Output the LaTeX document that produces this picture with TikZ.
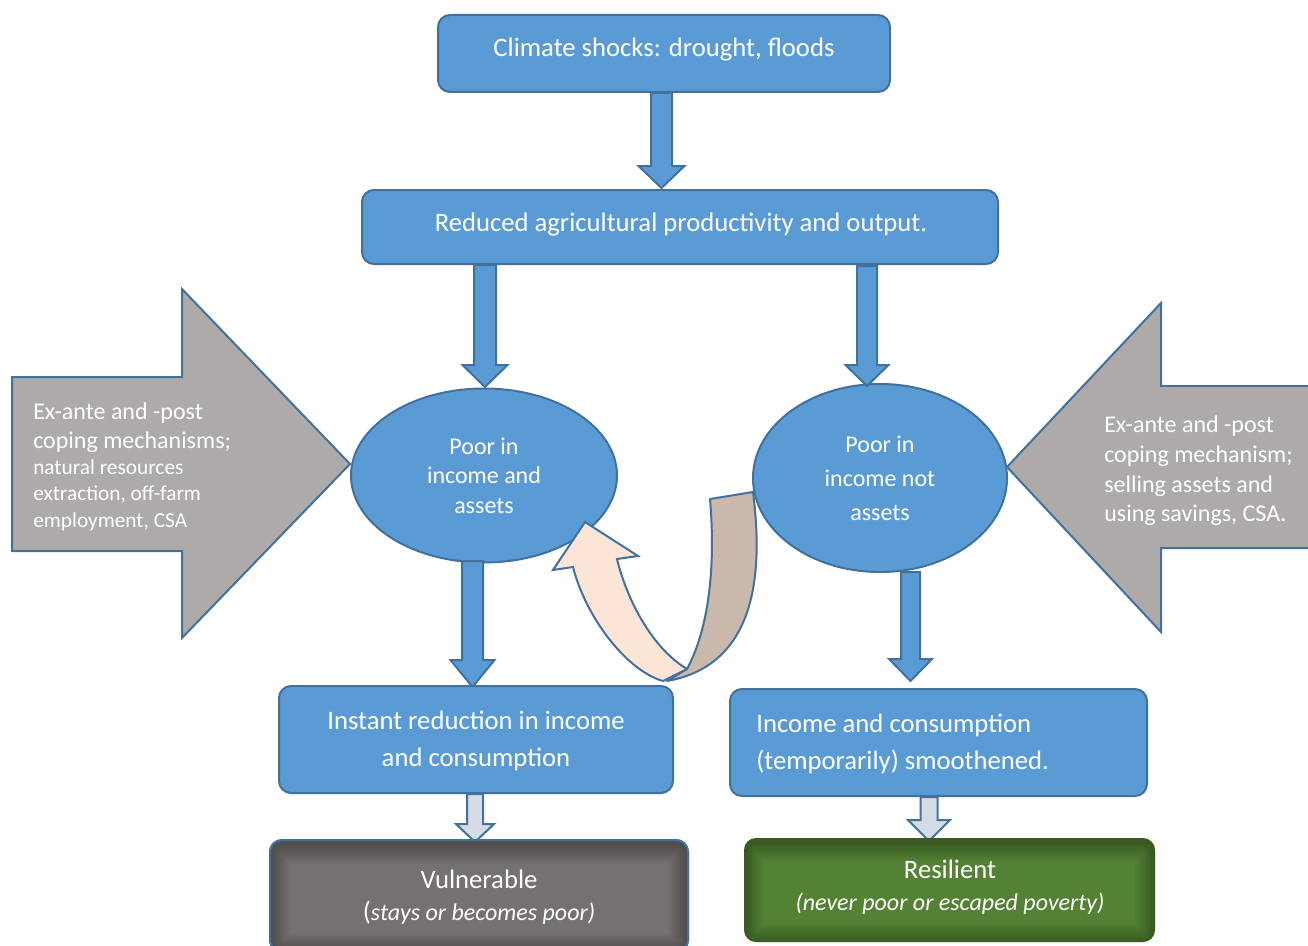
\documentclass[tikz,border=0pt]{standalone}
\usepackage{fontspec}
\setmainfont{Carlito}
\usetikzlibrary{calc,shapes.geometric}
\definecolor{bfill}{HTML}{5B9BD5}
\definecolor{bline}{HTML}{41719C}
\definecolor{gfill}{HTML}{AEAAAA}
\definecolor{lfill}{HTML}{D6DCE5}
\definecolor{vfill}{HTML}{767171}
\definecolor{rfill}{HTML}{548235}
\definecolor{peach}{HTML}{FBE5D6}
\definecolor{taupe}{HTML}{C9B8AB}
\def\u{0.75pt}
\newcommand\blkdown[7]{\draw[#7] (#1-#4,#2) -- (#1+#4,#2) -- (#1+#4,#6) -- (#1+#5,#6) -- (#1,#3) -- (#1-#5,#6) -- (#1-#4,#6) -- cycle;}
\newcommand\innershadow[1]{%
  \begin{scope}
    \clip[rounded corners=9pt] (#1.north west) rectangle (#1.south east);
    \foreach \w in {40,36,...,4}
      \draw[black, opacity=0.03, line width=\w*\u, rounded corners=9pt] ([yshift=-2.5pt]#1.north west) rectangle ([yshift=-1pt]#1.south east);
  \end{scope}}
\tikzset{
  box/.style={draw=bline, fill=bfill, line width=1.5pt, rounded corners=9pt, inner sep=0pt, outer sep=0pt},
  oval/.style={ellipse, draw=bline, fill=bfill, line width=1.5pt, inner sep=0pt, text=white, align=center},
  txt/.style={text=white, inner sep=0pt, font=\fontsize{20}{27.75}\selectfont},
  side/.style={text=white, inner sep=0pt, anchor=mid west},
  blue arrow/.style={draw=bline, fill=bfill, line width=1.5pt, line join=miter},
  light arrow/.style={draw=bline, fill=lfill, line width=1.5pt, line join=miter},
  big arrow/.style={draw=bline, fill=gfill, line width=1.5pt, line join=miter},
}
\begin{document}
\begin{tikzpicture}[x=0.75pt,y=-0.75pt]
\useasboundingbox (0,0) rectangle (1308,945);

% big side arrows
\draw[big arrow] (12,377) -- (182,377) -- (182,289) -- (350,464) -- (182,638) -- (182,551) -- (12,551) -- cycle;
\draw[big arrow] (1312,386) -- (1161,386) -- (1161,303) -- (1007,467) -- (1161,632) -- (1161,548) -- (1312,548);
\fill[gfill] (1161,387) rectangle (1312,547);

\node[side, font=\fontsize{18}{22}\selectfont] (la1) at (33,416) {Ex-ante and -post};
\node[side, font=\fontsize{18}{22}\selectfont] (la2) at (33,445) {coping mechanisms;};
\node[side, font=\fontsize{16}{20}\selectfont] (la3) at (33,471) {natural resources};
\node[side, font=\fontsize{16}{20}\selectfont] (la4) at (33,497) {extraction, off-farm};
\node[side, font=\fontsize{16}{20}\selectfont] (la5) at (33,524) {employment, CSA};

\node[side, font=\fontsize{18}{22}\selectfont] (ra1) at (1104,429) {Ex-ante and -post};
\node[side, font=\fontsize{18}{22}\selectfont] (ra2) at (1104,459) {coping mechanism;};
\node[side, font=\fontsize{18}{22}\selectfont] (ra3) at (1104,489) {selling assets and};
\node[side, font=\fontsize{18}{22}\selectfont] (ra4) at (1104,518) {using savings, CSA.};

% boxes
\node[box, minimum width=452*\u, minimum height=77*\u] (A) at (664,53.5) {};
\node[txt, anchor=mid] (At) at (664,53) {Climate shocks: drought, floods};
\node[box, minimum width=636*\u, minimum height=74*\u] (B) at (680,227) {};
\node[txt, anchor=mid] (Bt) at (681,228) {Reduced agricultural productivity and output.};

% ellipses
\node[oval, minimum width=266*\u, minimum height=174*\u, font=\fontsize{18}{22}\selectfont] (L) at (484,475.5) {Poor in\\income and\\assets};
\node[oval, minimum width=254*\u, minimum height=188*\u, font=\fontsize{18}{25.5}\selectfont] (R) at (880,478) {Poor in\\income not\\assets};

% arrows
\blkdown{661.5}{93}{188}{10.5}{23}{166}{blue arrow}
\blkdown{485}{265}{387}{11}{22.5}{365}{blue arrow}
\blkdown{867}{266}{386}{10}{21.5}{365}{blue arrow}
\blkdown{472.5}{561}{687}{10.5}{22}{660}{blue arrow}
\blkdown{910.5}{572}{681}{9.5}{21.5}{659}{blue arrow}

% curved U-turn arrow
\draw[fill=peach, draw=bline, line width=1.5pt, line join=miter]
  (663,681) .. controls (625,670) and (585,615) .. (573,567) -- (553,570) -- (585,522)
  -- (638,556) -- (617,559) .. controls (627,600) and (652,648) .. (687,669) -- cycle;
\draw[fill=taupe, draw=bline, line width=1.5pt, line join=round]
  (687,669) .. controls (708,630) and (716,570) .. (710,499) -- (753,492)
  .. controls (763,570) and (758,665) .. (667,681) -- cycle;

% lower boxes
\node[box, minimum width=394*\u, minimum height=107*\u] (C) at (476,739.5) {};
\node[txt, anchor=center, align=center] (Ct) at (476,740.5) {Instant reduction in income\\and consumption};
\node[box, minimum width=417*\u, minimum height=107*\u] (D) at (938.5,742.5) {};
\node[txt, anchor=west, align=left] (Dt) at (756,743.5) {Income and consumption\\(temporarily) smoothened.};

\blkdown{475}{794}{842}{8}{19}{824}{light arrow}
\blkdown{929}{797}{841}{8.5}{21}{820}{light arrow}

% outcome boxes
\node[box, fill=vfill, minimum width=418*\u, minimum height=112*\u] (E) at (479,896) {};
\innershadow{E}
\draw[bline, line width=1.5pt, rounded corners=9pt] (E.north west) rectangle (E.south east);
\node[txt, align=center, font=\fontsize{20}{24}\selectfont] (Et) at (479,897.5) {Vulnerable\\({\fontsize{18}{24}\selectfont\itshape stays or becomes poor)}};

\node[box, draw=none, fill=rfill, minimum width=411*\u, minimum height=104*\u] (F) at (949.5,890) {};
\innershadow{F}
\node[txt, align=center, font=\fontsize{20}{24}\selectfont] (Ft) at (950,887.5) {Resilient\\{\fontsize{18}{24}\selectfont\itshape (never poor or escaped poverty)}};
\end{tikzpicture}
\end{document}
